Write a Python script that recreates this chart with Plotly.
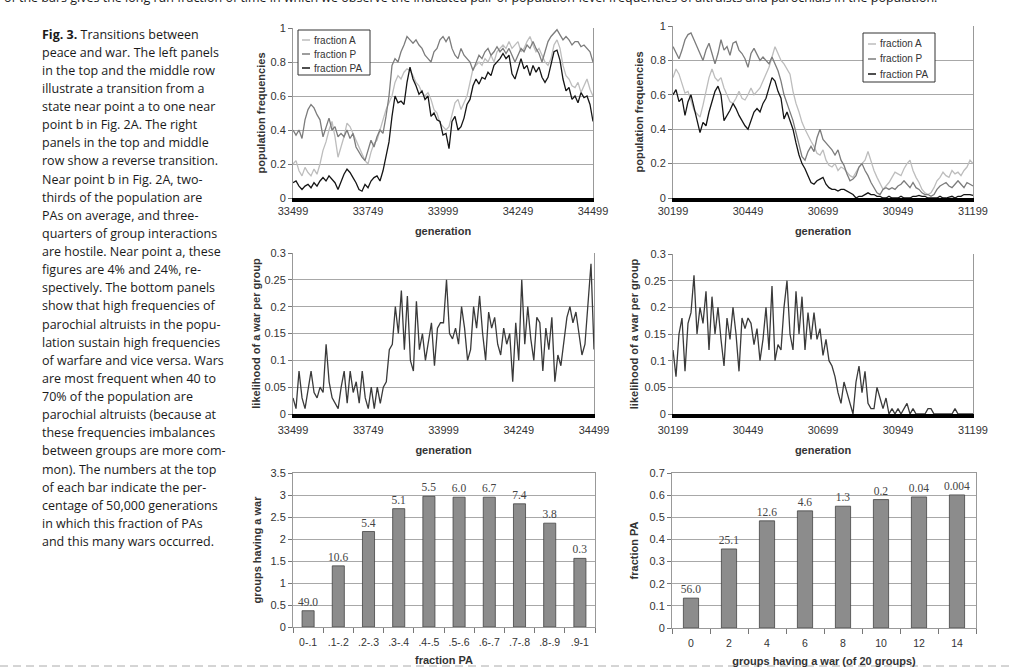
import plotly.graph_objects as go

W, H = 1009, 668

# ---------------- data ----------------
gen_start_left = 33499
gen_start_right = 30199
step = 10
n_pts = 101
gen_left = [gen_start_left + step * i for i in range(n_pts)]
gen_right = [gen_start_right + step * i for i in range(n_pts)]

fracA_left = [.20, .22, .16, .13, .18, .15, .13, .17, .14, .20, .28, .33, .40, .45, .36, .24, .30, .36, .44, .42,
              .38, .34, .30, .25, .22, .20, .27, .32, .34, .40, .46, .52, .56, .60, .68, .72, .70, .74, .76, .75,
              .72, .68, .66, .62, .60, .62, .58, .52, .50, .44, .42, .40, .42, .50, .56, .58, .52, .56, .60, .68,
              .76, .78, .80, .78, .82, .80, .84, .80, .86, .88, .90, .88, .92, .88, .90, .92, .86, .88, .92, .95,
              .90, .86, .88, .84, .80, .78, .82, .90, .93, .88, .78, .72, .70, .66, .65, .68, .62, .66, .70, .64, .60]
fracP_left = [.40, .37, .40, .35, .46, .52, .55, .53, .49, .46, .36, .42, .47, .40, .42, .36, .38, .36, .40, .35,
              .38, .30, .27, .24, .22, .28, .34, .30, .36, .40, .38, .48, .60, .78, .82, .80, .86, .90, .95, .93,
              .91, .93, .90, .88, .84, .82, .80, .86, .88, .93, .95, .92, .95, .88, .84, .82, .88, .84, .82, .80,
              .75, .79, .84, .82, .86, .88, .84, .86, .89, .86, .88, .85, .88, .84, .80, .84, .88, .86, .90, .88,
              .92, .88, .85, .80, .86, .92, .95, .97, .99, .96, .93, .95, .93, .90, .92, .92, .89, .90, .88, .86, .80]
fracPA_left = [.09, .10, .07, .05, .07, .08, .06, .09, .07, .10, .12, .10, .13, .11, .09, .05, .10, .14, .17, .15,
               .12, .09, .05, .04, .08, .06, .10, .12, .13, .10, .16, .24, .33, .48, .60, .56, .57, .55, .68, .77,
               .70, .66, .61, .63, .58, .60, .48, .50, .46, .45, .37, .38, .29, .45, .48, .40, .42, .47, .55, .58,
               .66, .70, .67, .71, .70, .74, .72, .78, .80, .82, .85, .82, .84, .73, .70, .76, .82, .76, .78, .72,
               .78, .74, .77, .71, .68, .71, .79, .86, .87, .81, .70, .63, .65, .58, .60, .56, .62, .59, .60, .55, .45]

fracA_right = [.70, .75, .72, .66, .61, .62, .56, .51, .49, .47, .54, .62, .70, .75, .70, .68, .70, .64, .60, .56,
               .55, .58, .62, .58, .57, .60, .64, .60, .62, .64, .68, .72, .76, .82, .88, .84, .80, .78, .75, .72,
               .62, .55, .50, .44, .40, .36, .33, .30, .26, .25, .28, .22, .19, .18, .20, .16, .18, .17, .15, .13,
               .12, .15, .18, .20, .22, .27, .21, .16, .12, .08, .05, .07, .09, .12, .15, .14, .13, .17, .20, .22,
               .16, .12, .09, .05, .03, .02, .03, .06, .10, .12, .15, .13, .12, .16, .14, .15, .13, .16, .18, .22, .20]
fracP_right = [.88, .84, .81, .86, .92, .95, .96, .92, .88, .84, .80, .86, .90, .84, .78, .84, .92, .86, .88, .83,
               .90, .91, .86, .84, .81, .76, .84, .87, .83, .80, .82, .80, .78, .82, .78, .74, .68, .60, .55, .50,
               .45, .38, .30, .24, .22, .27, .30, .27, .35, .40, .34, .32, .30, .28, .25, .28, .22, .19, .14, .10,
               .11, .13, .18, .20, .16, .13, .09, .06, .03, .02, .05, .06, .05, .06, .05, .07, .08, .10, .08, .06,
               .09, .06, .05, .03, .02, .02, .01, .02, .05, .07, .08, .09, .07, .06, .08, .10, .08, .06, .09, .08, .07]
fracPA_right = [.60, .63, .56, .58, .48, .56, .60, .52, .44, .38, .44, .42, .50, .56, .62, .65, .60, .45, .48, .51,
                .55, .52, .48, .45, .42, .40, .45, .50, .52, .50, .55, .58, .64, .70, .68, .62, .58, .46, .50, .45,
                .40, .32, .25, .20, .17, .13, .09, .08, .10, .11, .12, .08, .06, .05, .05, .04, .05, .05, .04, .03,
                .02, .00, .01, .01, .02, .03, .02, .02, .01, .01, .00, .00, .01, .00, .00, .00, .01, .00, .00, .00,
                .01, .01, .015, .01, .01, .00, .00, .00, .00, .01, .00, .00, .005, .01, .00, .01, .01, .02, .02, .02, .015]

war_left = [.03, .01, .08, .03, .01, .05, .08, .04, .03, .05, .04, .13, .06, .03, .02, .01, .05, .08, .02, .08,
            .04, .06, .02, .08, .03, .01, .05, .01, .05, .02, .05, .06, .12, .13, .20, .15, .23, .12, .22, .10,
            .08, .21, .12, .15, .10, .14, .17, .09, .16, .17, .17, .25, .15, .14, .16, .13, .20, .16, .10, .12,
            .20, .16, .22, .15, .10, .19, .16, .18, .13, .11, .16, .13, .15, .06, .17, .10, .25, .13, .20, .14,
            .10, .18, .17, .08, .16, .12, .18, .06, .11, .09, .13, .18, .20, .17, .19, .15, .11, .13, .20, .28, .12]
war_right = [.12, .07, .15, .18, .08, .17, .19, .26, .15, .20, .17, .23, .12, .22, .15, .20, .14, .09, .18, .14,
             .20, .15, .08, .18, .16, .18, .17, .13, .16, .10, .14, .20, .12, .24, .10, .13, .12, .20, .25, .15,
             .12, .23, .15, .22, .12, .19, .14, .19, .14, .16, .11, .14, .10, .09, .07, .04, .02, .06, .04, .02,
             .00, .06, .09, .04, .08, .02, .01, .01, .05, .03, .01, .03, .00, .01, .00, .01, .00, .01, .02, .00,
             .01, .00, .00, .00, .00, .01, .01, .00, .00, .00, .00, .00, .00, .00, .01, .00, .00, .00, .00, .00, .00]

pa_bins = ['0-.1', '.1-.2', '.2-.3', '.3-.4', '.4-.5', '.5-.6', '.6-.7', '.7-.8', '.8-.9', '.9-1']
groups_war = [0.37, 1.39, 2.17, 2.69, 2.97, 2.95, 2.95, 2.80, 2.36, 1.56]
pct_left = ['49.0', '10.6', '5.4', '5.1', '5.5', '6.0', '6.7', '7.4', '3.8', '0.3']

war_counts = ['0', '2', '4', '6', '8', '10', '12', '14']
frac_pa = [0.135, 0.357, 0.484, 0.529, 0.55, 0.58, 0.592, 0.601]
pct_right = ['56.0', '25.1', '12.6', '4.6', '1.3', '0.2', '0.04', '0.004']

series_names = ["fraction A", "fraction P", "fraction PA"]

caption_lines = [
    "<b>Fig. 3.</b> Transitions between",
    "peace and war. The left panels",
    "in the top and the middle row",
    "illustrate a transition from a",
    "state near point a to one near",
    "point b in Fig. 2A. The right",
    "panels in the top and middle",
    "row show a reverse transition.",
    "Near point b in Fig. 2A, two-",
    "thirds of the population are",
    "PAs on average, and three-",
    "quarters of group interactions",
    "are hostile. Near point a, these",
    "figures are 4% and 24%, re-",
    "spectively. The bottom panels",
    "show that high frequencies of",
    "parochial altruists in the popu-",
    "lation sustain high frequencies",
    "of warfare and vice versa. Wars",
    "are most frequent when 40 to",
    "70% of the population are",
    "parochial altruists (because at",
    "these frequencies imbalances",
    "between groups are more com-",
    "mon). The numbers at the top",
    "of each bar indicate the per-",
    "centage of 50,000 generations",
    "in which this fraction of PAs",
    "and this many wars occurred.",
]
top_text = ("of the bars gives the long run fraction of time in which we observe the indicated pair of "
            "population-level frequencies of altruists and parochials in the population.")

# ---------------- helpers ----------------
def px_x(a, b):
    return [a / W, b / W]

def px_y(top, bottom):
    return [1 - bottom / H, 1 - top / H]

def fx(p):
    return p / W

def fy(p):
    return 1 - p / H

FONT = "Liberation Sans, Arial, sans-serif"
CAP_FONT = "Open Sans, Noto Sans, sans-serif"
TICKF = dict(family=FONT, size=11, color="#333")
TITLEF = dict(family=FONT, size=11, color="#333")
GRID = "#a8a8a8"
colors = ["#bdbdbd", "#7c7c7c", "#151515"]

fig = go.Figure()

for name, ys, c in zip(series_names, [fracA_left, fracP_left, fracPA_left], colors):
    fig.add_trace(go.Scatter(x=gen_left, y=ys, mode="lines", name=name, line=dict(color=c, width=1.3),
                             xaxis="x", yaxis="y", showlegend=False))
for name, ys, c in zip(series_names, [fracA_right, fracP_right, fracPA_right], colors):
    fig.add_trace(go.Scatter(x=gen_right, y=ys, mode="lines", name=name, line=dict(color=c, width=1.3),
                             xaxis="x2", yaxis="y2", showlegend=False))
fig.add_trace(go.Scatter(x=gen_left, y=war_left, mode="lines", line=dict(color="#3a3a3a", width=1.3),
                         xaxis="x3", yaxis="y3", showlegend=False))
fig.add_trace(go.Scatter(x=gen_right, y=war_right, mode="lines", line=dict(color="#3a3a3a", width=1.3),
                         xaxis="x4", yaxis="y4", showlegend=False))

BARTEXT = dict(family="Liberation Serif, Times New Roman, serif", size=11.5, color="#444")
fig.add_trace(go.Bar(x=pa_bins, y=groups_war, text=pct_left, textposition="outside", constraintext="none",
                     textfont=BARTEXT, marker=dict(color="#8c8c8c", line=dict(color="#444", width=0.8)),
                     xaxis="x5", yaxis="y5", showlegend=False, cliponaxis=False))
fig.add_trace(go.Bar(x=war_counts, y=frac_pa, text=pct_right, textposition="outside", constraintext="none",
                     textfont=BARTEXT, marker=dict(color="#8c8c8c", line=dict(color="#444", width=0.8)),
                     xaxis="x6", yaxis="y6", showlegend=False, cliponaxis=False))

def ts_xaxis(dom, start, anchor, lstand=0):
    return dict(domain=dom, anchor=anchor, range=[start, start + 1000], automargin=False,
                tickvals=[start + 250 * i for i in range(5)], tickformat="d", tickfont=TICKF,
                ticklabelstandoff=lstand,
                showgrid=False, zeroline=False, showline=True, linecolor="#000", linewidth=4,
                ticks="", title=dict(text="<b>generation</b>", font=TITLEF, standoff=12))

def yaxis(dom, rng, dtick, title, anchor, standoff=6):
    return dict(domain=dom, anchor=anchor, range=rng, dtick=dtick, tickfont=TICKF, automargin=False,
                showgrid=True, gridcolor=GRID, gridwidth=1, zeroline=False,
                showline=True, linecolor="#999", linewidth=1, mirror=True,
                ticks="outside", ticklen=4, tickcolor="#777",
                title=dict(text=f"<b>{title}</b>", font=TITLEF, standoff=standoff))

def cat_xaxis(dom, anchor, title):
    return dict(domain=dom, anchor=anchor, tickfont=dict(family=FONT, size=10.5, color="#333"),
                showgrid=False, automargin=False, tickangle=0, ticklabelstandoff=5,
                showline=True, linecolor="#999", mirror=True, ticks="outside", tickson="boundaries",
                ticklen=5, tickcolor="#777",
                title=dict(text=f"<b>{title}</b>", font=TITLEF, standoff=9))

fig.update_layout(
    width=W, height=H, margin=dict(l=0, r=0, t=0, b=0, autoexpand=False),
    paper_bgcolor="white", plot_bgcolor="white",
    font=dict(family=FONT, color="#333"),
    bargap=0.6, showlegend=False,
    xaxis=ts_xaxis(px_x(293, 593), gen_start_left, "y"),
    yaxis=yaxis(px_y(28, 198), [0, 1], 0.2, "population frequencies", "x", 2),
    xaxis2=ts_xaxis(px_x(673, 973), gen_start_right, "y2"),
    yaxis2=yaxis(px_y(26, 198), [0, 1], 0.2, "population frequencies", "x2", 4),
    xaxis3=ts_xaxis(px_x(293, 594), gen_start_left, "y3", 3),
    yaxis3=yaxis(px_y(253, 414), [0, 0.3], 0.05, "likelihood of a war per group", "x3", 1),
    xaxis4=ts_xaxis(px_x(673, 973), gen_start_right, "y4", 3),
    yaxis4=yaxis(px_y(254, 414), [0, 0.3], 0.05, "likelihood of a war per group", "x4", 3),
    xaxis5=cat_xaxis(px_x(293, 595), "y5", "fraction PA"),
    yaxis5=yaxis(px_y(473, 627), [0, 3.5], 0.5, "groups having a war", "x5", 6),
    xaxis6=cat_xaxis(px_x(672, 976), "y6", "groups having a war (of 20 groups)"),
    yaxis6=yaxis(px_y(473, 628), [0, 0.7], 0.1, "fraction PA", "x6", 8),
)

annotations = []
shapes = []
y0 = 34
dy = 18.13
for i, line in enumerate(caption_lines):
    annotations.append(dict(text=line, x=fx(40), y=fy(y0 + i * dy), xref="paper", yref="paper",
                            xanchor="left", yanchor="middle", showarrow=False,
                            font=dict(family=CAP_FONT, size=12.5, color="#1a1a1a")))
annotations.append(dict(text=top_text, x=fx(2), y=fy(8), xref="paper", yref="paper",
                        xanchor="left", yanchor="bottom", showarrow=False,
                        font=dict(family=CAP_FONT, size=12.5, color="#1a1a1a")))

# legends (drawn as boxes with short line samples)
def add_legend(box, rows, sample_x):
    x0, y0b, x1, y1b = box
    shapes.append(dict(type="rect", xref="paper", yref="paper", x0=fx(x0), x1=fx(x1), y0=fy(y1b), y1=fy(y0b),
                       line=dict(color="#333", width=1), fillcolor="white", layer="above"))
    for name, c, ry in zip(series_names, colors, rows):
        shapes.append(dict(type="line", xref="paper", yref="paper", x0=fx(sample_x), x1=fx(sample_x + 8),
                           y0=fy(ry), y1=fy(ry), line=dict(color=c, width=1.5), layer="above"))
        annotations.append(dict(text=name, x=fx(sample_x + 10), y=fy(ry), xref="paper", yref="paper",
                                xanchor="left", yanchor="middle", showarrow=False,
                                font=dict(family=FONT, size=10, color="#333")))

add_legend((298, 30, 370, 75), (40, 54, 68), 302)
add_legend((863, 33, 935, 82), (44, 59, 74), 868)

shapes.append(dict(type="line", xref="paper", yref="paper", x0=0, x1=1, y0=fy(666), y1=fy(666),
                   line=dict(color="#aaaaaa", width=1, dash="8px,5px")))

fig.update_layout(annotations=annotations, shapes=shapes)

fig.write_html("out.html", config={"displayModeBar": False},
               post_script="document.body.style.margin='0';")
